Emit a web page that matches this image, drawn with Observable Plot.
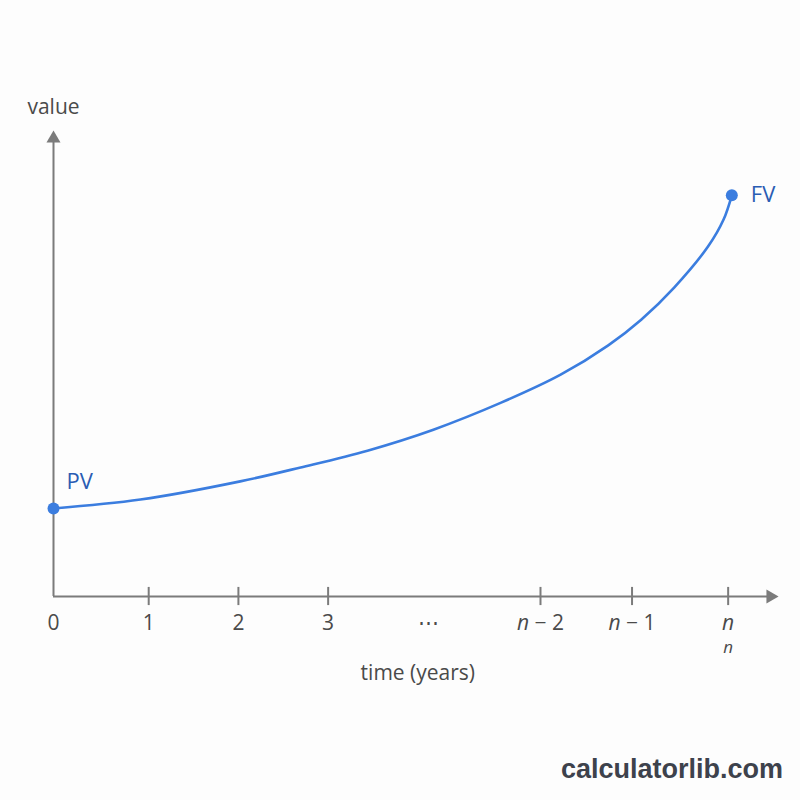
<!DOCTYPE html>
<html>
<head>
<meta charset="utf-8">
<script src="https://cdn.jsdelivr.net/npm/d3@7"></script>
<script src="https://cdn.jsdelivr.net/npm/@observablehq/plot@0.6"></script>
<style>
  html, body { margin: 0; padding: 0; background: #fdfdfd; }
  #wrap { position: relative; width: 800px; height: 800px; }
  #mark { position: absolute; right: 17px; top: 754px; font-family: "Liberation Sans", Arial, sans-serif; font-weight: bold; font-size: 27px; color: #3d424c; }
  svg { font-family: "Open Sans", "Noto Sans", sans-serif; }
</style>
</head>
<body>
<div id="wrap"><div id="chart"></div><div id="mark">calculatorlib.com</div></div>
<script>
// Curve (time units, value units)
const curveX = [0, 0.95, 2.04, 2.70, 3.43, 4.15, 4.89, 5.54, 6.06, 6.42, 6.78, 7.15, 7.32, 7.41];
const curveY = [18.9, 20.8, 24.7, 27.7, 31.3, 35.8, 41.6, 47.6, 53.9, 59.4, 66.3, 75.1, 80.9, 86.1];
// Tick positions and labels on the time axis
const tickX = [0, 1.04, 2.02, 3.0, 4.1, 5.32, 6.32, 7.37];
const tickLabels = ["0", "1", "2", "3", "⋯", "n − 2", "n − 1", "n"];
const tickMarked = [false, true, true, true, false, true, true, true];
const endLabels = ["PV", "FV"];
const axisMaxX = 7.92, axisMaxY = 100;

const curve = curveX.map((x, i) => ({x, y: curveY[i]}));
const ticks = tickX.map((x, i) => ({x, label: tickLabels[i], marked: tickMarked[i]}));
const pv = {x: curveX[0], y: curveY[0], label: endLabels[0]};
const fv = {x: curveX[curveX.length - 1], y: curveY[curveY.length - 1], label: endLabels[1]};

const axisColor = "#7b7b7b";
const textColor = "#4a4a4a";
const blue = "#3b7ddf";
const blueDark = "#2a5cb3";

const plot = Plot.plot({
  width: 800,
  height: 800,
  marginLeft: 53,
  marginRight: 22,
  marginTop: 130,
  marginBottom: 204,
  x: {domain: [0, axisMaxX], axis: null},
  y: {domain: [0, axisMaxY], axis: null},
  style: {background: "transparent"},
  marks: [
    Plot.ruleY([0], {x1: 0, x2: axisMaxX - 0.1, stroke: axisColor, strokeWidth: 2}),
    Plot.ruleX([0], {y1: 0, y2: axisMaxY - 2.6, stroke: axisColor, strokeWidth: 2}),
    Plot.dot([{x: axisMaxX, y: 0}], {x: "x", y: "y", symbol: "triangle", r: 5.2, fill: axisColor, rotate: 90, dx: -8}),
    Plot.dot([{x: 0, y: axisMaxY}], {x: "x", y: "y", symbol: "triangle", r: 5.2, fill: axisColor, dy: 8}),
    Plot.ruleX(ticks.filter(d => d.marked), {x: "x", y1: -1.95, y2: 1.95, stroke: axisColor, strokeWidth: 2}),
    Plot.text(ticks, {x: "x", y: 0, text: "label", dy: 27, fontSize: 21, fill: textColor}),
    Plot.text([fv], {x: ticks[7].x, y: 0, text: d => "n", dy: 51, fontSize: 17, fontStyle: "italic", fill: textColor}),
    Plot.text(["time (years)"], {x: 3.98, y: 0, text: d => d, dy: 77, fontSize: 21, fill: textColor}),
    Plot.text(["value"], {x: 0, y: 104.9, text: d => d, fontSize: 21, fill: textColor}),
    Plot.line(curve, {x: "x", y: "y", curve: "catmull-rom", stroke: blue, strokeWidth: 2.6}),
    Plot.dot([pv, fv], {x: "x", y: "y", r: 6, fill: blue}),
    Plot.text([pv], {x: "x", y: "y", text: "label", dx: 13, dy: -26, textAnchor: "start", fontSize: 22, fill: blueDark}),
    Plot.text([fv], {x: "x", y: "y", text: "label", dx: 19, dy: 0, textAnchor: "start", fontSize: 22, fill: blueDark})
  ]
});

// italicize the variable n inside tick labels
d3.select(plot).selectAll("text").each(function() {
  const t = this.textContent;
  if (t === "n" || t.startsWith("n −")) {
    const sel = d3.select(this);
    sel.text(null);
    sel.append("tspan").attr("font-style", "italic").text("n");
    if (t.length > 1) sel.append("tspan").text(t.slice(1));
  }
});

document.getElementById("chart").appendChild(plot);
</script>
</body>
</html>
